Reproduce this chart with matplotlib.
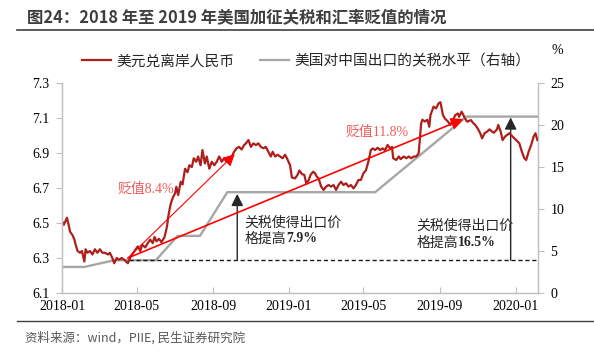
import matplotlib
matplotlib.use('Agg')
import matplotlib.pyplot as plt
import matplotlib.dates as mdates
from matplotlib.lines import Line2D
import pandas as pd

plt.rcParams['font.family'] = ['Liberation Serif', 'Noto Sans CJK SC']

title = '图24：2018 年至 2019 年美国加征关税和汇率贬值的情况'
source = '资料来源：wind，PIIE, 民生证券研究院'
label_cnh = '美元兑离岸人民币'
label_tariff = '美国对中国出口的关税水平（右轴）'

# USD/CNH
cnh_dates = [
    '2018-01-01', '2018-01-04', '2018-01-09', '2018-01-11', '2018-01-14', '2018-01-18', '2018-01-21',
    '2018-01-23', '2018-01-26', '2018-01-30', '2018-02-02', '2018-02-06', '2018-02-08', '2018-02-11',
    '2018-02-15', '2018-02-19', '2018-02-23', '2018-02-27', '2018-03-03', '2018-03-07', '2018-03-11',
    '2018-03-16', '2018-03-19', '2018-03-23', '2018-03-26', '2018-03-30', '2018-04-03', '2018-04-07',
    '2018-04-12', '2018-04-17', '2018-04-21', '2018-04-24', '2018-04-29', '2018-05-03', '2018-05-07',
    '2018-05-10', '2018-05-15', '2018-05-19', '2018-05-23', '2018-05-27', '2018-05-30', '2018-06-02',
    '2018-06-06', '2018-06-10', '2018-06-15', '2018-06-19', '2018-06-21', '2018-06-24', '2018-06-26',
    '2018-06-29', '2018-07-02', '2018-07-04', '2018-07-07', '2018-07-11', '2018-07-14', '2018-07-18',
    '2018-07-22', '2018-07-25', '2018-07-29', '2018-08-01', '2018-08-05', '2018-08-08', '2018-08-12',
    '2018-08-15', '2018-08-19', '2018-08-22', '2018-08-26', '2018-08-30', '2018-09-03', '2018-09-07',
    '2018-09-11', '2018-09-15', '2018-09-19', '2018-09-23', '2018-09-27', '2018-10-01', '2018-10-05',
    '2018-10-09', '2018-10-13', '2018-10-17', '2018-10-21', '2018-10-24', '2018-10-28', '2018-11-01',
    '2018-11-05', '2018-11-09', '2018-11-13', '2018-11-17', '2018-11-21', '2018-11-25', '2018-11-29',
    '2018-12-03', '2018-12-06', '2018-12-10', '2018-12-14', '2018-12-18', '2018-12-22', '2018-12-26',
    '2018-12-29', '2019-01-03', '2019-01-06', '2019-01-11', '2019-01-15', '2019-01-18', '2019-01-22',
    '2019-01-26', '2019-01-29', '2019-02-02', '2019-02-05', '2019-02-09', '2019-02-12', '2019-02-15',
    '2019-02-18', '2019-02-22', '2019-02-26', '2019-03-02', '2019-03-06', '2019-03-10', '2019-03-14',
    '2019-03-18', '2019-03-22', '2019-03-26', '2019-03-30', '2019-04-03', '2019-04-07', '2019-04-11',
    '2019-04-15', '2019-04-19', '2019-04-23', '2019-04-27', '2019-05-01', '2019-05-05', '2019-05-09',
    '2019-05-13', '2019-05-16', '2019-05-20', '2019-05-24', '2019-05-28', '2019-06-01', '2019-06-05',
    '2019-06-09', '2019-06-13', '2019-06-16', '2019-06-18', '2019-06-23', '2019-06-27', '2019-06-30',
    '2019-07-05', '2019-07-09', '2019-07-13', '2019-07-17', '2019-07-21', '2019-07-25', '2019-07-29',
    '2019-08-02', '2019-08-04', '2019-08-08', '2019-08-12', '2019-08-15', '2019-08-17', '2019-08-22',
    '2019-08-26', '2019-08-30', '2019-09-02', '2019-09-06', '2019-09-09', '2019-09-14', '2019-09-18',
    '2019-09-22', '2019-09-26', '2019-09-30', '2019-10-02', '2019-10-06', '2019-10-09', '2019-10-11',
    '2019-10-15', '2019-10-21', '2019-10-25', '2019-10-28', '2019-11-01', '2019-11-05', '2019-11-08',
    '2019-11-12', '2019-11-16', '2019-11-20', '2019-11-24', '2019-11-27', '2019-12-02', '2019-12-04',
    '2019-12-08', '2019-12-11', '2019-12-15', '2019-12-22', '2019-12-27', '2020-01-02', '2020-01-07',
    '2020-01-11', '2020-01-15', '2020-01-18', '2020-01-22', '2020-01-26', '2020-01-30', '2020-02-02',
    '2020-02-05',
]
cnh_values = [
    6.51, 6.49, 6.53, 6.50, 6.45, 6.43, 6.405,
    6.376, 6.34, 6.33, 6.34, 6.28, 6.35, 6.33,
    6.34, 6.32, 6.35, 6.33, 6.35, 6.33, 6.33,
    6.32, 6.33, 6.30, 6.27, 6.30, 6.29, 6.30,
    6.287, 6.27, 6.305, 6.32, 6.347, 6.366, 6.34,
    6.376, 6.36, 6.385, 6.405, 6.385, 6.42, 6.395,
    6.41, 6.39, 6.42, 6.48, 6.537, 6.594, 6.622,
    6.65, 6.67, 6.707, 6.66, 6.736, 6.72, 6.81,
    6.79, 6.83, 6.82, 6.87, 6.85, 6.88, 6.83,
    6.917, 6.84, 6.88, 6.81, 6.85, 6.83, 6.85,
    6.88, 6.85, 6.87, 6.85, 6.87, 6.88, 6.907,
    6.927, 6.935, 6.92, 6.945, 6.955, 6.974, 6.935,
    6.955, 6.945, 6.955, 6.935, 6.927, 6.935, 6.907,
    6.88, 6.907, 6.88, 6.89, 6.88, 6.87, 6.89,
    6.87, 6.83, 6.76, 6.755, 6.775, 6.80, 6.78,
    6.775, 6.727, 6.745, 6.775, 6.793, 6.785, 6.765,
    6.755, 6.708, 6.689, 6.708, 6.717, 6.708, 6.717,
    6.689, 6.717, 6.736, 6.717, 6.727, 6.708, 6.717,
    6.698, 6.717, 6.746, 6.746, 6.784, 6.80, 6.85,
    6.917, 6.926, 6.917, 6.93, 6.917, 6.926, 6.917,
    6.946, 6.926, 6.935, 6.87, 6.86, 6.88, 6.865,
    6.88, 6.87, 6.88, 6.87, 6.88, 6.88, 6.898,
    7.07, 7.09, 7.08, 7.09, 7.05, 7.117, 7.165,
    7.155, 7.184, 7.19, 7.117, 7.098, 7.08, 7.06,
    7.088, 7.117, 7.126, 7.107, 7.136, 7.117, 7.10,
    7.079, 7.088, 7.07, 7.06, 7.04, 7.013, 6.984,
    7.013, 7.022, 7.035, 7.022, 7.016, 7.035, 7.06,
    7.022, 6.974, 6.994, 7.013, 6.994, 6.974, 6.955,
    6.908, 6.87, 6.86, 6.908, 6.946, 6.994, 7.013,
    6.974,
]

# US tariff level on imports from China, %
tariff_dates = ['2018-01-01', '2018-02-06', '2018-03-26', '2018-06-01', '2018-07-06',
                '2018-08-11', '2018-09-24', '2019-05-20', '2019-10-14', '2020-02-06']
tariff_values = [3.1, 3.1, 3.9, 3.9, 6.8, 6.8, 12.0, 12.0, 21.0, 21.0]

# annotation anchors
base_date, base_cnh, base_tariff = '2018-04-17', 6.30, 3.9
dep1_end, dep1_val = '2018-10-06', 6.894
dep2_end, dep2_val = '2019-10-09', 7.094
arr1_date, arr1_top = '2018-10-10', 11.8
arr2_date, arr2_top = '2019-12-24', 20.9
dash_start = '2018-04-19'

red = '#AE1E1A'
grey = '#A6A6A6'
axis_grey = '#BFBFBF'
ann_red = '#F25A5A'

fig = plt.figure(figsize=(5.94, 3.57), dpi=100)
ax = fig.add_axes([62 / 594, 1 - 293 / 357, 476 / 594, 210 / 357])
ax2 = ax.twinx()
ax.set_zorder(ax2.get_zorder() + 1)
ax.patch.set_visible(False)

d = pd.to_datetime(cnh_dates)
td = pd.to_datetime(tariff_dates)
ax2.plot(td, tariff_values, color=grey, lw=1.7, solid_joinstyle='miter')
ax.plot(d, cnh_values, color=red, lw=1.6)

xmin, xmax = pd.Timestamp('2018-01-01'), pd.Timestamp('2020-02-06')
ax.set_xlim(xmin, xmax)
ax.set_ylim(6.1, 7.3)
ax.set_yticks([6.1, 6.3, 6.5, 6.7, 6.9, 7.1, 7.3])
ax.yaxis.set_major_formatter(plt.FormatStrFormatter('%.1f'))
ax2.set_ylim(0, 25)
ax2.set_yticks([0, 5, 10, 15, 20, 25])
ax.set_xticks(pd.to_datetime(['2018-01-01', '2018-05-01', '2018-09-01', '2019-01-01',
                              '2019-05-01', '2019-09-01', '2020-01-01']))
ax.xaxis.set_major_formatter(mdates.DateFormatter('%Y-%m'))

for a in (ax, ax2):
    a.spines['top'].set_visible(False)
    for s in ('left', 'right', 'bottom'):
        a.spines[s].set_color(axis_grey)
        a.spines[s].set_linewidth(0.9)
ax.tick_params(axis='y', direction='out', length=4, color=axis_grey, labelsize=10, pad=5)
ax.tick_params(axis='x', direction='in', length=4, color=axis_grey, labelsize=10, pad=5)
ax2.tick_params(axis='y', direction='out', length=4, color=axis_grey, labelsize=10, pad=5)

# dashed baseline and black arrows (right axis)
ax2.plot([pd.Timestamp(dash_start), xmax], [base_tariff, base_tariff], color='#1a1a1a',
         lw=1.0, ls=(0, (3, 2)))
for dt, top in ((arr1_date, arr1_top), (arr2_date, arr2_top)):
    ax2.annotate('', xy=(pd.Timestamp(dt), top), xytext=(pd.Timestamp(dt), base_tariff),
                 arrowprops=dict(arrowstyle='-|>,head_length=0.6,head_width=0.3', color='#262626',
                                 lw=1.0, mutation_scale=12, shrinkA=0, shrinkB=0))

# red depreciation arrows (left axis)
for end, val, lw in ((dep1_end, dep1_val, 0.8), (dep2_end, dep2_val, 1.2)):
    ax.annotate('', xy=(pd.Timestamp(end), val), xytext=(pd.Timestamp(base_date), base_cnh),
                arrowprops=dict(arrowstyle='-|>,head_length=0.6,head_width=0.3', color='#FF0000',
                                lw=lw, mutation_scale=12, shrinkA=0, shrinkB=0))

ax.text(pd.Timestamp('2018-04-01'), 6.674, '贬值8.4%', color=ann_red, fontsize=10, va='baseline')
ax.text(pd.Timestamp('2019-04-02'), 6.997, '贬值11.8%', color=ann_red, fontsize=10, va='baseline')

for x0, y1, y2, pct in (('2018-10-22', 6.48, 6.389, '7.9%'), ('2019-07-25', 6.463, 6.366, '16.5%')):
    ax.text(pd.Timestamp(x0), y1, '关税使得出口价', fontsize=10, color='#262626', va='baseline')
    t = ax.text(pd.Timestamp(x0), y2, '格提高', fontsize=10, color='#262626', va='baseline')
    ax.annotate(pct, xy=(1, y2), xycoords=(t, 'data'), fontsize=10, color='#262626',
                weight='bold', va='baseline', ha='left')

# legend and header
handles = [Line2D([], [], color=red, lw=1.6), Line2D([], [], color=grey, lw=1.6)]
fig.legend(handles, [label_cnh, label_tariff], loc='center left', ncol=2, frameon=False,
           bbox_to_anchor=(82 / 594, 1 - 61 / 357), fontsize=10.6, handlelength=2.0,
           handletextpad=0.35, columnspacing=1.7, borderaxespad=0, borderpad=0,
           labelcolor='#262626')
fig.text(557 / 594, 1 - 50 / 357, '%', ha='center', va='center', fontsize=10)

fig.text(27 / 594, 1 - 18 / 357, title, fontsize=11.8, weight='bold', color='#3F3F3F',
         family='Noto Sans CJK SC', va='center')
fig.add_artist(Line2D([17 / 594, 1], [1 - 30 / 357, 1 - 30 / 357], color='#404040', lw=1.2))
fig.add_artist(Line2D([17 / 594, 1], [1 - 321 / 357, 1 - 321 / 357], color='#404040', lw=1.0))
fig.text(25 / 594, 1 - 338 / 357, source, fontsize=9, color='#595959',
         family='Noto Sans CJK SC', va='center')

fig.savefig('out.png', dpi=100)
